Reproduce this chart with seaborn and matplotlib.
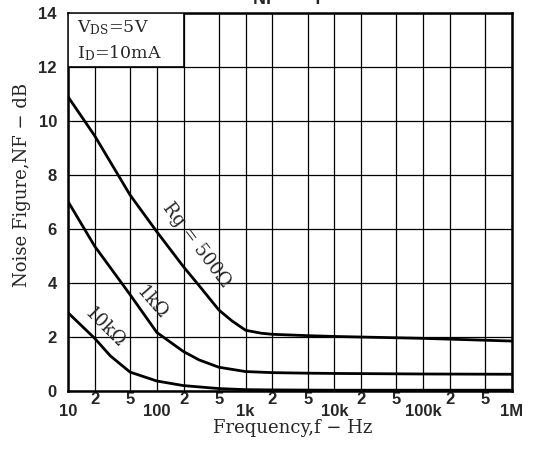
import matplotlib
matplotlib.use("Agg")
import matplotlib.pyplot as plt
import matplotlib.ticker as mticker
from matplotlib.patches import Rectangle
import seaborn as sns
import pandas as pd

# curves (frequency in Hz, NF in dB)
freq_500 = [10, 20, 50, 100, 200, 300, 500, 700, 1000, 1500, 2000, 5000, 1e4, 1e5, 1e6]
nf_500 = [10.9, 9.45, 7.26, 5.9, 4.6, 3.9, 3.0, 2.6, 2.25, 2.14, 2.1, 2.05, 2.02, 1.95, 1.85]

freq_1k = [10, 20, 50, 100, 200, 300, 500, 1000, 2000, 5000, 1e4, 1e5, 1e6]
nf_1k = [7.02, 5.36, 3.57, 2.17, 1.46, 1.15, 0.88, 0.72, 0.68, 0.66, 0.65, 0.63, 0.62]

freq_10k = [10, 20, 30, 50, 100, 200, 500, 1000, 2000, 1e4, 1e6]
nf_10k = [2.9, 1.95, 1.3, 0.7, 0.37, 0.2, 0.09, 0.05, 0.04, 0.03, 0.03]

curve_names = ["500", "1k", "10k"]
decade_ticks = [10, 100, 1e3, 1e4, 1e5, 1e6]
decade_labels = ["10", "100", "1k", "10k", "100k", "1M"]
y_ticks = [0, 2, 4, 6, 8, 10, 12, 14]

frames = []
for name, f, nf in zip(curve_names, [freq_500, freq_1k, freq_10k], [nf_500, nf_1k, nf_10k]):
    frames.append(pd.DataFrame({"freq": f, "nf": nf, "rg": name}))
df = pd.concat(frames, ignore_index=True)

sns.set_style("white")
plt.rcParams["font.family"] = ["DejaVu Serif"]
plt.rcParams["mathtext.fontset"] = "dejavuserif"

fig = plt.figure(figsize=(5.47, 4.55), dpi=100)
ax = fig.add_axes([68 / 547, 1 - 391 / 455, 444 / 547, 378 / 455])

sns.lineplot(data=df, x="freq", y="nf", units="rg", estimator=None,
             color="black", linewidth=2.0, ax=ax, sort=False, zorder=5)

ax.set_xscale("log")
ax.set_xlim(10, 1e6)
ax.set_ylim(0, 14)

# grid: decades plus 2 and 5 in every decade
minor = [m * d for d in [10, 100, 1e3, 1e4, 1e5] for m in (2, 5)]
ax.xaxis.set_major_locator(mticker.FixedLocator(decade_ticks))
ax.xaxis.set_minor_locator(mticker.FixedLocator(minor))
ax.xaxis.set_major_formatter(mticker.FixedFormatter(decade_labels))
ax.xaxis.set_minor_formatter(mticker.FixedFormatter(["2", "5"] * 5))
ax.set_yticks(y_ticks)
ax.grid(True, which="both", color="black", linewidth=0.9)
ax.set_axisbelow(True)

tick_font = dict(family="Liberation Sans", weight="bold", size=12)
for lab in ax.get_xticklabels(which="major") + ax.get_yticklabels():
    lab.set(**tick_font)
for lab in ax.get_xticklabels(which="minor"):
    lab.set(**tick_font)
ax.tick_params(axis="x", which="major", length=0, pad=9)
ax.tick_params(axis="x", which="minor", length=0, pad=1)
ax.tick_params(axis="y", length=0, pad=8)

for sp in ax.spines.values():
    sp.set_visible(True)
    sp.set_color("black")
    sp.set_linewidth(1.8)

# condition box in the top-left cell
ax.add_patch(Rectangle((10, 12), 190, 2, facecolor="white", edgecolor="black",
                       linewidth=1.2, zorder=3))
ax.text(12.5, 13.45, r"V$_{\rm DS}$=5V", fontsize=12.5, va="center", zorder=4)
ax.text(12.5, 12.5, r"I$_{\rm D}$=10mA", fontsize=12.5, va="center", zorder=4)

# curve labels
ax.text(283, 5.4, "Rg = 500Ω", fontsize=13, rotation=-53, ha="center", va="center", zorder=6)
ax.text(88, 3.25, "1kΩ", fontsize=13, rotation=-49, ha="center", va="center", zorder=6)
ax.text(26, 2.35, "10kΩ", fontsize=13, rotation=-45, ha="center", va="center", zorder=6)

ax.set_xlabel("Frequency,f − Hz", fontsize=13)
ax.xaxis.label.set_va("center")
ax.xaxis.set_label_coords(0.507, -0.098)
ax.set_ylabel("Noise Figure,NF − dB", fontsize=13)
ax.yaxis.label.set_va("center")
ax.yaxis.set_label_coords(-0.104, 0.545)

# title of the original sheet, cut off by the top edge
fig.text(0.525, 0.992, "NF  —  f", fontsize=13, ha="center", va="baseline",
         family="Liberation Sans", weight="bold")

fig.savefig("out.png", dpi=100)
